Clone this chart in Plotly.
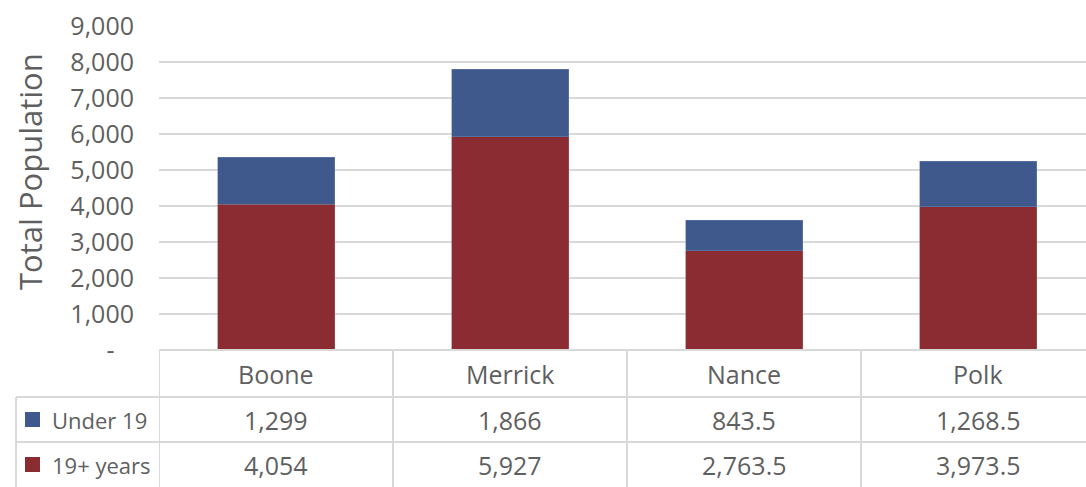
import plotly.graph_objects as go

counties = ["Boone", "Merrick", "Nance", "Polk"]
under_19 = [1299, 1866, 843.5, 1268.5]
adults_19_plus = [4054, 5927, 2763.5, 3973.5]
series_names = ["Under 19", "19+ years"]
y_ticks = [0, 1000, 2000, 3000, 4000, 5000, 6000, 7000, 8000, 9000]

BLUE = "#3F598C"
RED = "#8B2C33"
GRID = "#D9D9D9"
TEXT = "#5F5F5F"
FONT = "'Open Sans', Lato, sans-serif"


def fmt(v):
    return format(v, ",g")


fig = go.Figure()
fig.add_trace(go.Bar(x=counties, y=adults_19_plus, name=series_names[1],
                     marker=dict(color=RED, line=dict(color="#A85A60", width=0.5))))
fig.add_trace(go.Bar(x=counties, y=under_19, name=series_names[0],
                     marker=dict(color=BLUE, line=dict(color="#6F86B0", width=0.5))))

# plot area: x 159..1086 px, y 26..350 px; one category ~234 px (last column is cut off)
H = 324.0
W = 927.0
cat_px = 234.0
row_y = [0, -47 / H, -92 / H, -137 / H]   # table row boundaries in paper units
left_x = (16 - 159) / W

shapes = []
line = dict(color=GRID, width=2)
# horizontal table lines
shapes.append(dict(type="line", xref="paper", yref="paper", x0=0, x1=1,
                   y0=0, y1=0, line=line, layer="above"))
for yy in row_y[1:3]:
    shapes.append(dict(type="line", xref="paper", yref="paper", x0=left_x, x1=1,
                       y0=yy, y1=yy, line=line))
# vertical table lines
shapes.append(dict(type="line", xref="paper", yref="paper", x0=left_x, x1=left_x,
                   y0=row_y[1], y1=row_y[3], line=line))
for i in range(len(counties)):
    shapes.append(dict(type="line", xref="x", yref="paper", x0=i - 0.5, x1=i - 0.5,
                       y0=0, y1=row_y[3], line=line))

annotations = []
tfont = dict(family=FONT, size=25, color=TEXT)
for i, c in enumerate(counties):
    cells = [c, fmt(under_19[i]), fmt(adults_19_plus[i])]
    for r, txt in enumerate(cells):
        annotations.append(dict(x=c, y=(row_y[r] + row_y[r + 1]) / 2, xref="x", yref="paper",
                                xanchor="center", yanchor="middle",
                                text=txt, showarrow=False, font=tfont))

# legend keys inside the table
for k, (name, col) in enumerate(zip(series_names, [BLUE, RED])):
    yc = (row_y[1 + k] + row_y[2 + k]) / 2
    shapes.append(dict(type="rect", xref="paper", yref="paper",
                       x0=(25 - 159) / W, x1=(40 - 159) / W,
                       y0=yc - 7.5 / H, y1=yc + 7.5 / H,
                       fillcolor=col, line=dict(width=0)))
    annotations.append(dict(x=(50 - 159) / W, y=yc, xref="paper", yref="paper",
                            xanchor="left", yanchor="middle",
                            text=name, showarrow=False,
                            font=dict(family=FONT, size=22, color=TEXT)))

annotations.append(dict(x=(30 - 159) / W, y=(350 - 172) / H, xref="paper", yref="paper",
                        xanchor="center", yanchor="middle",
                        text="Total Population", textangle=-90, showarrow=False,
                        font=dict(family=FONT, size=31, color=TEXT)))

fig.update_layout(
    width=1086, height=487,
    margin=dict(l=159, r=0, t=26, b=137, autoexpand=False),
    barmode="stack", bargap=0.5,
    showlegend=False,
    plot_bgcolor="white", paper_bgcolor="white",
    font=dict(family=FONT, color=TEXT),
    xaxis=dict(showticklabels=False, showgrid=False, zeroline=False,
               range=[-0.5, -0.5 + W / cat_px], fixedrange=True),
    yaxis=dict(range=[0, 9000], tickvals=y_ticks,
               ticktext=["-   "] + [f"{v:,}" for v in y_ticks[1:]],
               showgrid=True, gridcolor=GRID, gridwidth=2, zeroline=False,
               ticklabelstandoff=24, tickfont=dict(family=FONT, size=25, color=TEXT)),
    shapes=shapes,
    annotations=annotations,
)

fig.write_html("out.html", config={"displayModeBar": False},
               post_script="document.body.style.margin='0';")
